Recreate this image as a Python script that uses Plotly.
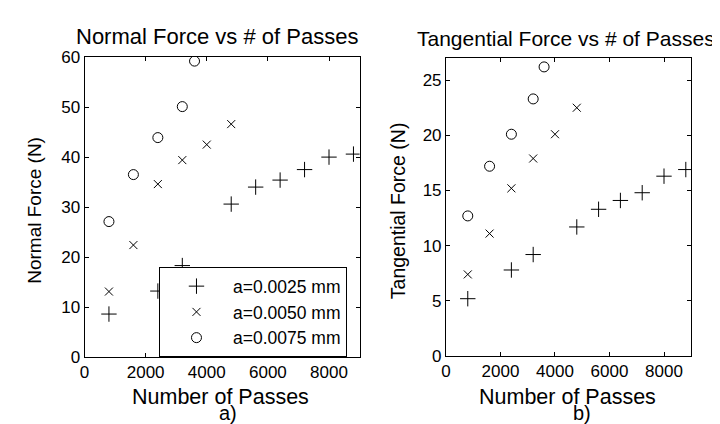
import plotly.graph_objects as go

# ---- data ----
passes_a1 = [800, 2400, 3200, 4800, 5600, 6400, 7200, 8000, 8800]
normal_a1 = [8.6, 13.2, 18.3, 30.6, 34.0, 35.4, 37.5, 40.0, 40.6]
tang_a1 = [5.2, 7.8, 9.2, 11.7, 13.3, 14.1, 14.8, 16.3, 16.9]

passes_a2 = [800, 1600, 2400, 3200, 4000, 4800]
normal_a2 = [13.1, 22.4, 34.6, 39.4, 42.5, 46.6]
tang_a2 = [7.4, 11.1, 15.2, 17.9, 20.1, 22.5]

passes_a3 = [800, 1600, 2400, 3200, 3600]
normal_a3 = [27.1, 36.5, 43.9, 50.1, 59.2]
tang_a3 = [12.7, 17.2, 20.1, 23.3, 26.2]

labels = ["a=0.0025 mm", "a=0.0050 mm", "a=0.0075 mm"]
x_ticks = [0, 2000, 4000, 6000, 8000]
normal_ticks = [0, 10, 20, 30, 40, 50, 60]
tang_ticks = [0, 5, 10, 15, 20, 25]

FONT = "Liberation Sans, Arial, sans-serif"
symbols = ["cross-thin-open", "x-thin-open", "circle-open"]
sizes = [11, 8, 10]

fig = go.Figure()
series_left = [(passes_a1, normal_a1), (passes_a2, normal_a2), (passes_a3, normal_a3)]
series_right = [(passes_a1, tang_a1), (passes_a2, tang_a2), (passes_a3, tang_a3)]
for i, (xs, ys) in enumerate(series_left):
    fig.add_trace(go.Scatter(x=xs, y=ys, mode="markers", name=labels[i],
                             marker=dict(symbol=symbols[i], size=sizes[i], color="black",
                                         line=dict(color="black", width=1)),
                             xaxis="x", yaxis="y", showlegend=True))
for i, (xs, ys) in enumerate(series_right):
    fig.add_trace(go.Scatter(x=xs, y=ys, mode="markers", name=labels[i],
                             marker=dict(symbol=symbols[i], size=sizes[i], color="black",
                                         line=dict(color="black", width=1)),
                             xaxis="x2", yaxis="y2", showlegend=False))

W, H = 720, 424
def px(x):
    return x / W
def py(y):
    return 1 - y / H

axis_common = dict(showline=True, linecolor="black", linewidth=1, mirror="ticks",
                   ticks="inside", ticklen=4, tickcolor="black", showgrid=False,
                   zeroline=False, tickfont=dict(family=FONT, size=17, color="black"))

fig.update_layout(
    width=W, height=H,
    margin=dict(l=0, r=0, t=0, b=0),
    paper_bgcolor="white", plot_bgcolor="white",
    font=dict(family=FONT, color="black"),
    xaxis=dict(domain=[px(72), px(349)], range=[0, 9000], tickvals=x_ticks,
               anchor="y", **axis_common),
    yaxis=dict(domain=[py(356), py(42)], range=[0, 60], tickvals=normal_ticks,
               anchor="x", **axis_common),
    xaxis2=dict(domain=[px(436), px(683)], range=[0, 9000], tickvals=x_ticks,
                anchor="y2", **axis_common),
    yaxis2=dict(domain=[py(355), py(43)], range=[0, 27], tickvals=tang_ticks,
                anchor="x2", **axis_common),
    legend=dict(x=px(147), y=py(262), xanchor="left", yanchor="top",
                bgcolor="white", bordercolor="black", borderwidth=1,
                font=dict(family=FONT, size=17.5, color="black"),
                itemwidth=63, tracegroupgap=0),
    showlegend=True,
)

annots = [
    dict(text="Normal Force vs # of Passes", x=px(205), y=py(20), size=22),
    dict(text="Tangential Force vs # of Passes", x=px(557), y=py(22), size=21),
    dict(text="Number of Passes", x=px(209), y=py(398), size=21.5),
    dict(text="a)", x=px(217), y=py(415), size=20),
    dict(text="Number of Passes", x=px(558), y=py(398), size=21.5),
    dict(text="b)", x=px(573), y=py(415), size=20),
]
for a in annots:
    fig.add_annotation(text=a["text"], x=a["x"], y=a["y"], xref="paper", yref="paper",
                       xanchor="center", yanchor="middle", showarrow=False,
                       font=dict(family=FONT, size=a["size"], color="black"))
fig.add_annotation(text="Normal Force (N)", x=px(22), y=py(202), xref="paper", yref="paper",
                   textangle=-90, showarrow=False, xanchor="center", yanchor="middle",
                   font=dict(family=FONT, size=19, color="black"))
fig.add_annotation(text="Tangential Force (N)", x=px(388), y=py(203), xref="paper", yref="paper",
                   textangle=-90, showarrow=False, xanchor="center", yanchor="middle",
                   font=dict(family=FONT, size=19.5, color="black"))

fig.write_html("out.html")
